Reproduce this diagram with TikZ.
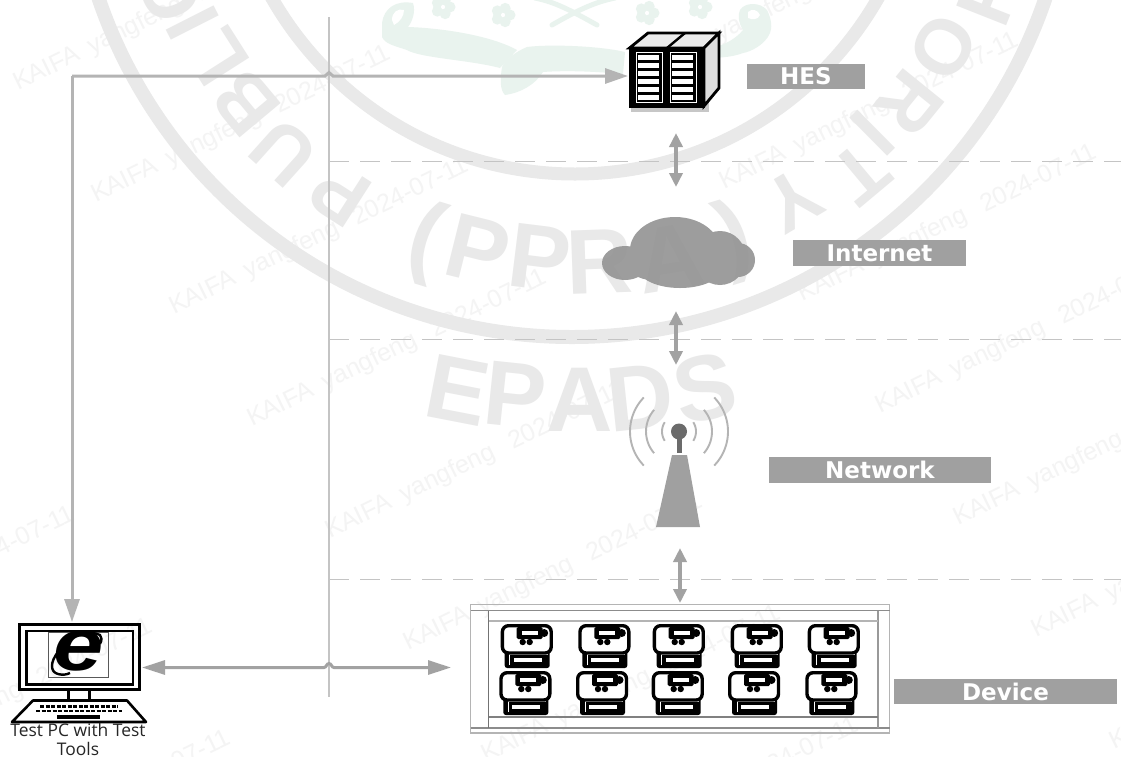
\documentclass[tikz,border=0pt]{standalone}
\usepackage{fontspec}
\setmainfont{Liberation Sans}
\newfontfamily\labfont{DejaVu Sans}
\newfontfamily\capfont{Open Sans}
\usetikzlibrary{arrows.meta,calc}
\definecolor{wmgray}{HTML}{E9E9E9}
\definecolor{wmfaint}{HTML}{F4F4F4}
\definecolor{wmgreen}{HTML}{E9F3EE}
\definecolor{linegray}{HTML}{B4B4B4}
\definecolor{thingray}{HTML}{C4C4C4}
\definecolor{darkarrow}{HTML}{A2A2A2}
\definecolor{labgray}{HTML}{A0A0A0}
\tikzset{
  x=1pt,y=-1pt,
  ring/.style={draw=wmgray,line width=14pt},
  wmbig/.style={text=wmgray,font=\bfseries\fontsize{92}{92}\selectfont,inner sep=0pt},
  wmseal/.style={text=wmgray,font=\bfseries\fontsize{78}{78}\selectfont,inner sep=0pt},
  wmsmall/.style={text=wmfaint,font=\fontsize{25}{25}\selectfont,rotate=26,anchor=west,inner sep=0pt},
  wmfill/.style={fill=wmgreen},
  guide/.style={draw=thingray,line width=1.3pt},
  band/.style={draw=thingray,line width=1pt,dash pattern=on 20pt off 11pt},
  flow/.style={draw=linegray,line width=3pt,-{Triangle[length=23pt,width=15pt]}},
  flowtwo/.style={draw=darkarrow,line width=3pt,{Triangle[length=23pt,width=14pt]}-{Triangle[length=23pt,width=14pt]}},
  updown/.style={draw=darkarrow,line width=3.6pt,{Triangle[length=14pt,width=13pt]}-{Triangle[length=14pt,width=13pt]}},
  tag/.style={fill=labgray,text=white,font=\labfont\bfseries\fontsize{23}{23}\selectfont,inner sep=0pt,anchor=center},
  slot/.style={inner sep=0pt,minimum width=#1},
  frameline/.style={draw=linegray,line width=1.4pt},
  meter/.pic={
    \fill[black,rounded corners=2.5pt] (4,26) rectangle (49,44);
    \draw[white,line width=.8pt] (9,41) -- (9,30.5) -- (47,30.5);
    \fill[white] (13,34) rectangle (41,38);
    \filldraw[fill=white,draw=black,line width=3.4pt,rounded corners=6pt] (1.7,1.7) rectangle (50.5,29);
    \fill[black,rounded corners=1.5pt] (16,3) rectangle (42,15);
    \fill[white] (21,6.5) rectangle (37,10.5);
    \fill[black] (43.5,9) circle[radius=4pt];
    \fill[black] (22,18) circle[radius=3.2pt] (29,18) circle[radius=3.2pt];
  },
}
\begin{document}
\begin{tikzpicture}
\useasboundingbox (0,0) rectangle (1121,756);
\clip (0,0) rectangle (1121,756);
\fill[white] (0,0) rectangle (1121,756);
% --- watermark: KAIFA lines, only those that reach the page
\foreach \i in {-2,...,7}{
  \foreach \j in {-1,...,2}{
    \pgfmathsetmacro\wx{15+78*\i+550*\j}
    \pgfmathsetmacro\wy{85+112*\i-125*\j}
    \pgfmathtruncatemacro\wshow{(\wx+400>0)&&(\wx<1121)&&(\wy>0)&&(\wy-195<756)?1:0}
    \ifnum\wshow=1
      \node[wmsmall] at (\wx,\wy) {KAIFA\hspace{12pt}yangfeng\hspace{18pt}2024-07-11};
    \fi
  }
}
% --- watermark: emblem
\fill[wmfill] (382,23) .. controls (384,8) and (396,0) .. (413,3) .. controls (416,12) and (412,22) .. (408,27)
  .. controls (440,28) and (490,35) .. (517,50) -- (500,68)
  .. controls (470,60) and (420,58) .. (407,50) .. controls (395,46) and (385,44) .. (382,37) -- cycle;
\fill[white] (392,20) .. controls (392,12) and (398,8) .. (404,10) .. controls (404,16) and (400,22) .. (394,25) -- cycle;
\fill[wmfill] (502,67) .. controls (500,80) and (500,90) .. (505,95) .. controls (520,93) and (535,85) .. (543,72)
  .. controls (570,70) and (600,72) .. (623,74) -- (625,52) .. controls (600,46) and (550,44) .. (527,47) .. controls (515,52) and (505,60) .. cycle;
\fill[wmfill] (700,50) .. controls (720,48) and (735,40) .. (743,30) .. controls (738,22) and (738,14) .. (740,10)
  .. controls (745,2) and (760,2) .. (767,10) .. controls (772,20) and (772,28) .. (770,33)
  .. controls (765,45) and (750,52) .. (743,53) .. controls (730,58) and (715,58) .. (700,58) -- cycle;
\fill[white] (748,12) .. controls (752,8) and (758,10) .. (760,15) .. controls (758,20) and (752,20) .. (748,18) -- cycle;
\foreach \p/\q in {443/7,503/15,647/13,700/7}{
  \foreach \a in {0,72,...,288}{
    \fill[wmgreen] ({\p+7*cos(\a)},{\q+7*sin(\a)}) circle[radius=5.5pt];
  }
  \fill[white] (\p,\q) circle[radius=2pt];
}
\draw[wmgreen,line width=5pt,line cap=round] (535,-2) .. controls (555,2) and (570,10) .. (597,25);
\draw[wmgreen,line width=5pt,line cap=round] (615,-2) .. controls (595,2) and (578,10) .. (552,25);
% --- watermark: seal rings
\draw[ring] (572,-163) circle[radius=500pt];
\draw[ring,line width=13pt] (575,-175) circle[radius=349pt];
\foreach \x/\y/\l in {170/-8/C,193/23/I,217/57/L,246/103/B,284/152/U,340/194/P,793/200/Y,860/173/T,873/133/I,910/103/R,943/47/O,990/-5/H}{
  \pgfmathsetmacro\rr{atan2(-(\y+170),\x-573)-90}
  \node[wmseal,rotate=\rr] at (\x,\y) {\l};
}
\foreach \x/\y/\r/\l in {425/242/-17/(,478/250/-14/P,540/258/-7/P,600/262/2/R,670/258/9/A,735/240/17/)}{
  \node[wmbig,rotate=\r] at (\x,\y) {\l};
}
\foreach \x/\y/\r/\l in {458/390/-11/E,515/395/-6/P,580/400/0/A,640/398/6/D,705/388/12/S}{
  \node[wmbig,rotate=\r] at (\x,\y) {\l};
}
% --- guide lines
\coordinate (vtop) at (329,17);
\coordinate (vbot) at (329,697);
\draw[guide] (vtop) -- (vbot);
\foreach \n/\y in {a/161,b/339,c/579}{
  \coordinate (\n l) at (329,\y);
  \coordinate (\n r) at (1121,\y);
  \draw[band] (\n l) -- (\n r);
}
% --- named items
\node[slot=92pt,minimum height=60pt] (hes) at (674,76.5) {};
\node[slot=122pt,minimum height=67pt] (pc) at (79,656.5) {};
\node[slot=420pt,minimum height=129pt] (dev) at (680,668.5) {};
\node[slot=100pt,minimum height=72pt] (tower) at (679,491) {};
\node[slot=153pt,minimum height=71pt] (cloud) at (678,252.5) {};
\coordinate (corner) at (72,76);
\coordinate (pctop) at (72,622);
\coordinate (hesin) at (628,76);
\coordinate (pcin) at (142,667.5);
\coordinate (devin) at (451,667.5);
% --- flows
\draw[flow] (pctop |- corner) -- (pctop);
\draw[flow,rounded corners=0pt] (corner) -- (325,76) .. controls (327,76) and (327,72.5) .. (329,72.5) .. controls (331,72.5) and (331,76) .. (333,76) -- (hesin);
\draw[flowtwo] (pcin) -- (324,667.5) .. controls (326.5,667.5) and (326.5,663.5) .. (329,663.5) .. controls (331.5,663.5) and (331.5,667.5) .. (334,667.5) -- (devin);
\coordinate (u1) at (676,133); \coordinate (u2) at (676,187);
\coordinate (u3) at (676,311); \coordinate (u4) at (676,365);
\coordinate (u5) at (680,548); \coordinate (u6) at (680,603);
\draw[updown] (u1) -- (u2);
\draw[updown] (u3) -- (u4);
\draw[updown] (u5) -- (u6);
% --- labels
\node[tag,minimum width=118pt,minimum height=25pt] (lhes) at (806,76.5) {HES};
\node[tag,minimum width=173pt,minimum height=26pt] (lnet) at (879.5,253) {Internet};
\node[tag,minimum width=222pt,minimum height=26pt] (lnw) at (880,470) {Network};
\node[tag,minimum width=223pt,minimum height=25pt] (ldev) at (1005.5,691.5) {Device};
% --- server
\fill[black!22] (631,52) rectangle (709,112);
\filldraw[fill=white!92!black,draw=black,line width=2.8pt,line join=miter] (629.5,48) -- (648,33) -- (719,33) -- (704,48) -- cycle;
\filldraw[fill=black!13,draw=black,line width=2.8pt] (704,48) -- (719,33) -- (719,88) -- (704,106) -- cycle;
\draw[black,line width=2.4pt] (667,48) -- (685,33);
\fill[black] (628.5,47) rectangle (705,107.5);
\foreach \xa/\xb in {636/662,670/696}{
  \draw[white,line width=.7pt] (\xa,52) rectangle (\xb,102);
  \foreach \yy in {55,63,71,79,87,95}{
    \fill[white] ({\xa+2},\yy) rectangle ({\xb-3},\yy+4.5);
  }
}
% --- cloud
\fill[labgray!92!black,opacity=.9]
  (625,263) circle[x radius=23pt,y radius=17pt]
  (675,250) circle[x radius=45pt,y radius=33pt]
  (680,268) circle[x radius=42pt,y radius=20pt]
  (652,262) circle[x radius=25pt,y radius=18pt]
  (720,258) circle[x radius=26pt,y radius=27pt]
  (738,260) circle[x radius=17pt,y radius=17pt];
% --- tower
\fill[labgray] (672,455) -- (687,455) -- (700,527) -- (656,527) -- cycle;
\fill[black!58] (677,434) rectangle (681.5,453);
\fill[black!58] (679,431.5) circle[radius=8pt];
\foreach \R/\A in {17/33,33/41,49/44}{
  \draw[linegray,line width=1.9pt,smooth] plot[domain=-\A:\A,samples=15] ({679+\R*cos(\x)},{431.5+\R*sin(\x)});
  \draw[linegray,line width=1.9pt,smooth] plot[domain=-\A:\A,samples=15] ({679-\R*cos(\x)},{431.5+\R*sin(\x)});
}
% --- device frame
\draw[frameline] (470.5,604.5) rectangle (889.5,733);
\draw[frameline,draw=black!45,line width=1.1pt] (470.5,610.5) -- (889.5,610.5);
\draw[frameline,draw=black!45,line width=1.1pt] (470.5,728) -- (889.5,728);
\draw[frameline,draw=black!55,line width=1.1pt] (488.5,610.5) -- (488.5,728);
\draw[frameline,draw=black!40,line width=1.1pt] (878,610.5) -- (878,728);
\draw[frameline,line width=1.1pt] (488.5,621) -- (878,621);
\draw[frameline,draw=black!50,line width=1.1pt] (488.5,717) -- (878,717);
\foreach \mx in {500.7,578.3,652.7,730.7,807.7}{
  \pic at (\mx,624) {meter};
}
\foreach \mx in {499.3,576,651.7,728,805.3}{
  \pic at (\mx,671) {meter};
}
% --- PC
\draw[black,line width=3pt] (19.5,624.5) rectangle (139,689.5);
\draw[black,line width=2.2pt] (26.5,631) rectangle (133,684.5);
\draw[black!65,line width=1pt] (48.5,632) rectangle (108,677);
\node[inner sep=0pt,xscale=1.22,font=\bfseries\itshape\fontsize{74}{74}\selectfont] (ie) at (79,651) {e};
\draw[black,line width=2.4pt] (67,642) .. controls (75,634) and (90,630) .. (100,635) .. controls (102,637) and (102,640) .. (100,644);
\draw[black,line width=2.4pt] (58,652) .. controls (50,662) and (50,672) .. (58,674) .. controls (62,675) and (66,675) .. (70,673);
\draw[black,line width=3pt] (68,691) -- (68,700) (89,691) -- (89,700);
\filldraw[fill=white,draw=black,line join=round,line width=2.6pt] (33,700.5) -- (127,700.5) -- (146,722) -- (12,722) -- cycle;
\draw[black,line width=2.6pt,dash pattern=on 4pt off 1.5pt] (40,706.5) -- (118,706.5);
\draw[black,line width=2.6pt,dash pattern=on 4pt off 1.5pt] (36,711) -- (122,711);
\fill[black] (57,715) rectangle (100,718.5);
\node[inner sep=0pt,font=\capfont\fontsize{17.4}{19}\selectfont,text=black!85,align=center,anchor=north] (cap) at (78,723.5) {Test PC with Test\\Tools};
\end{tikzpicture}
\end{document}
